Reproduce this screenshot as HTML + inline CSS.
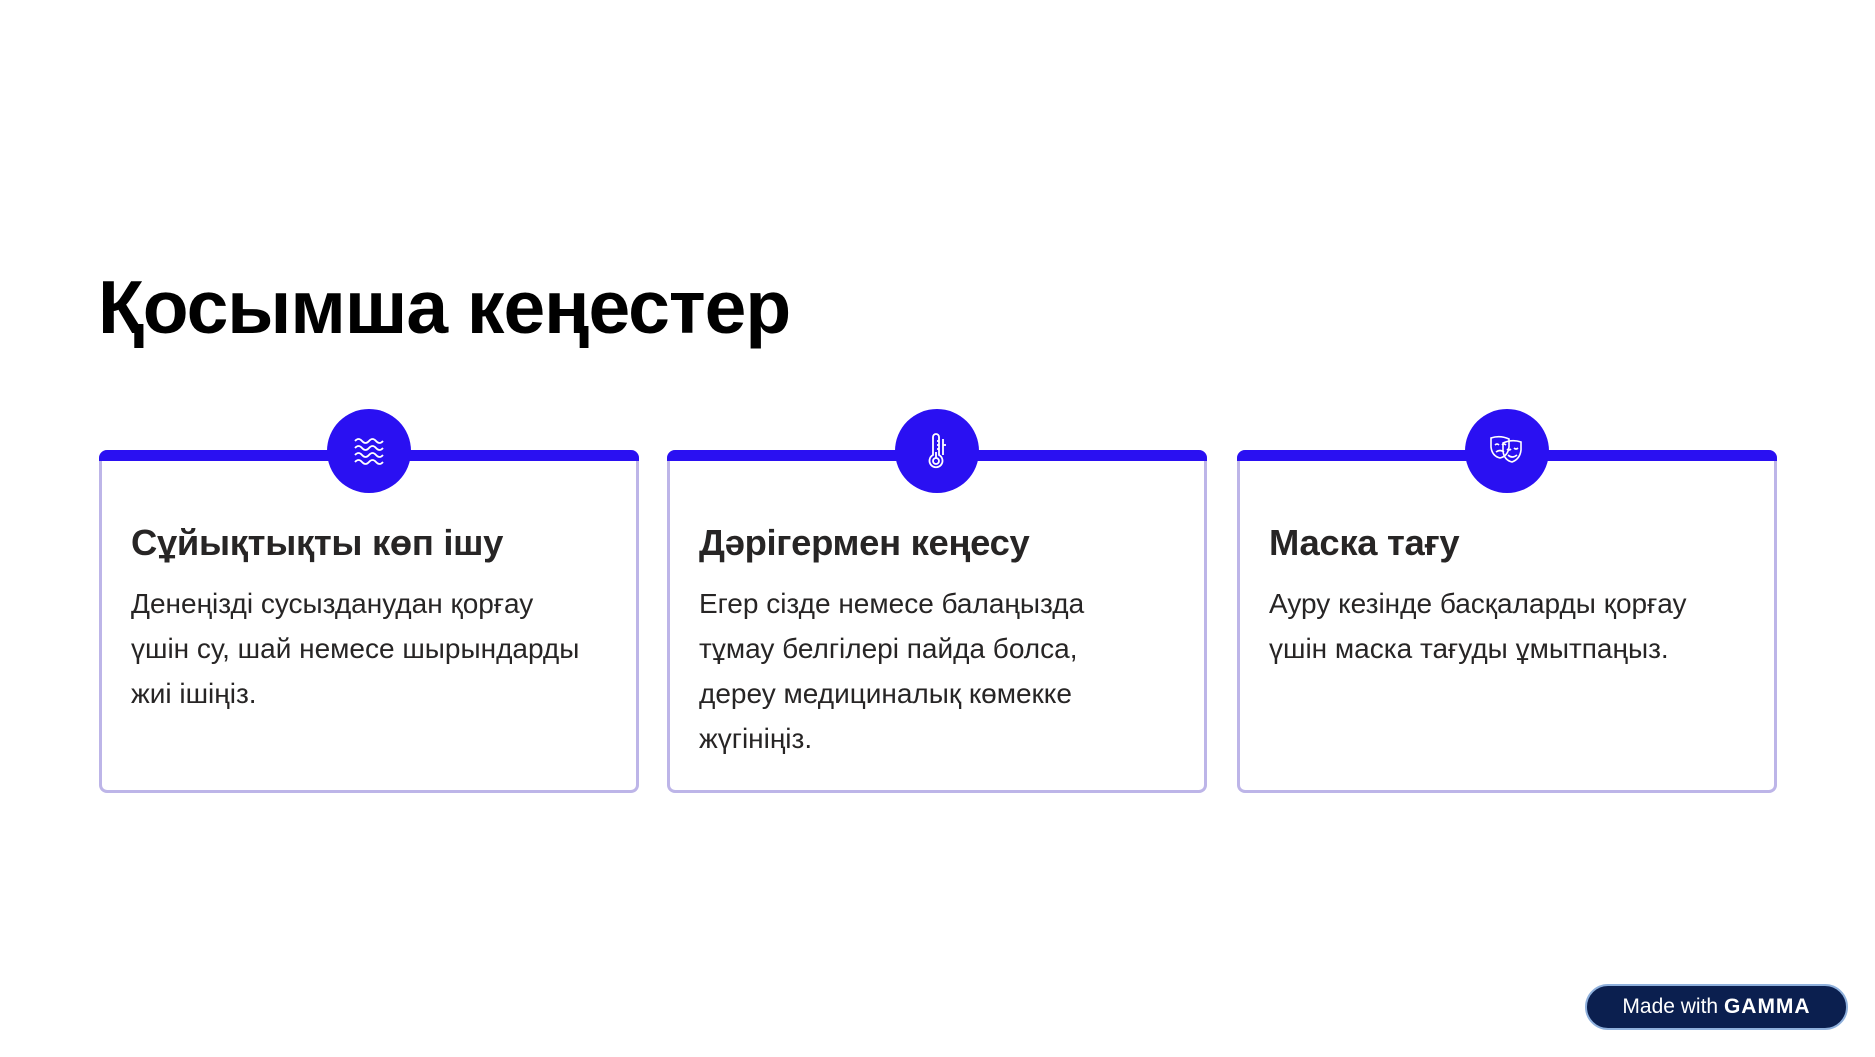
<!DOCTYPE html>
<html><head><meta charset="utf-8"><style>
body{margin:0;width:1875px;height:1057px;background:#fff;position:relative;overflow:hidden;font-family:"Liberation Sans","DejaVu Sans",sans-serif;}
h1{position:absolute;left:98px;top:262px;margin:0;font-size:75px;font-weight:bold;color:#000;letter-spacing:-1px;line-height:90px;}
.card{position:absolute;top:450px;width:540px;height:343px;border:3px solid #bdb5e8;border-top:none;border-radius:8px;box-sizing:border-box;}
.bar{position:absolute;left:-3px;right:-3px;top:0;height:11px;background:#2a10f2;border-radius:8px 8px 0 0;}
.circ{position:absolute;top:-41px;left:50%;margin-left:-42px;width:84px;height:84px;border-radius:50%;background:#2a10f2;}
.circ svg{position:absolute;left:22px;top:22px;}
.h{position:absolute;left:29px;top:72px;font-size:36.4px;font-weight:bold;color:#272525;white-space:nowrap;letter-spacing:-0.3px;}
.p{position:absolute;left:29px;top:131px;font-size:28px;line-height:45px;color:#272525;white-space:nowrap;}
.badge{position:absolute;left:1585px;top:984px;width:263px;height:46px;border-radius:24px;background:#0b1f4f;border:2px solid #8fb0dc;box-sizing:border-box;color:#fff;font-size:21px;line-height:42px;text-align:center;}
</style></head><body>
<h1>Қосымша кеңестер</h1>
<div class="card" style="left:99px"><div class="bar"></div><div class="circ"><svg width="40" height="40" viewBox="0 0 40 40" fill="none" stroke="#fff" stroke-width="1.8"><path d="M6 10q3.5-4 7 0t7 0t7 0t7 0M6 17q3.5-4 7 0t7 0t7 0t7 0M6 24q3.5-4 7 0t7 0t7 0t7 0M6 31q3.5-4 7 0t7 0t7 0t7 0"/></svg></div>
<div class="h">Сұйықтықты көп ішу</div>
<div class="p">Денеңізді сусызданудан қорғау<br>үшін су, шай немесе шырындарды<br>жиі ішіңіз.</div></div>
<div class="card" style="left:667px"><div class="bar"></div><div class="circ"><svg width="40" height="40" viewBox="0 0 40 40" fill="none" stroke="#fff" stroke-width="1.8"><path d="M16 6a3 3 0 0 1 6 0v18a6.5 6.5 0 1 1-6 0z"/><circle cx="19" cy="30" r="3"/><path d="M19 27v-6M22 10h-2M22 14h-2M22 18h-2M26 8v16M26 14h3"/></svg></div>
<div class="h">Дәрігермен кеңесу</div>
<div class="p">Егер сізде немесе балаңызда<br>тұмау белгілері пайда болса,<br>дереу медициналық көмекке<br>жүгініңіз.</div></div>
<div class="card" style="left:1237px"><div class="bar"></div><div class="circ"><svg width="40" height="40" viewBox="0 0 40 40" fill="none" stroke="#fff" stroke-width="1.6"><path d="M4 7q9-3 18 1v8q-1 9-9 11q-8-2-9-11z"/><path d="M8 14q2-2 4 0M15 14q2-2 4 0M9 21q4-3 8 0"/><path d="M16 12q9-4 18-1v8q-1 9-9 12q-8-2-9-11z"/><path d="M20 18q2 2 4 0M27 17q2 2 4 0M21 24q4 4 9 0"/></svg></div>
<div class="h">Маска тағу</div>
<div class="p">Ауру кезінде басқаларды қорғау<br>үшін маска тағуды ұмытпаңыз.</div></div>
<div class="badge">Made with <b style="letter-spacing:1px">GAMMA</b></div>
</body></html>
